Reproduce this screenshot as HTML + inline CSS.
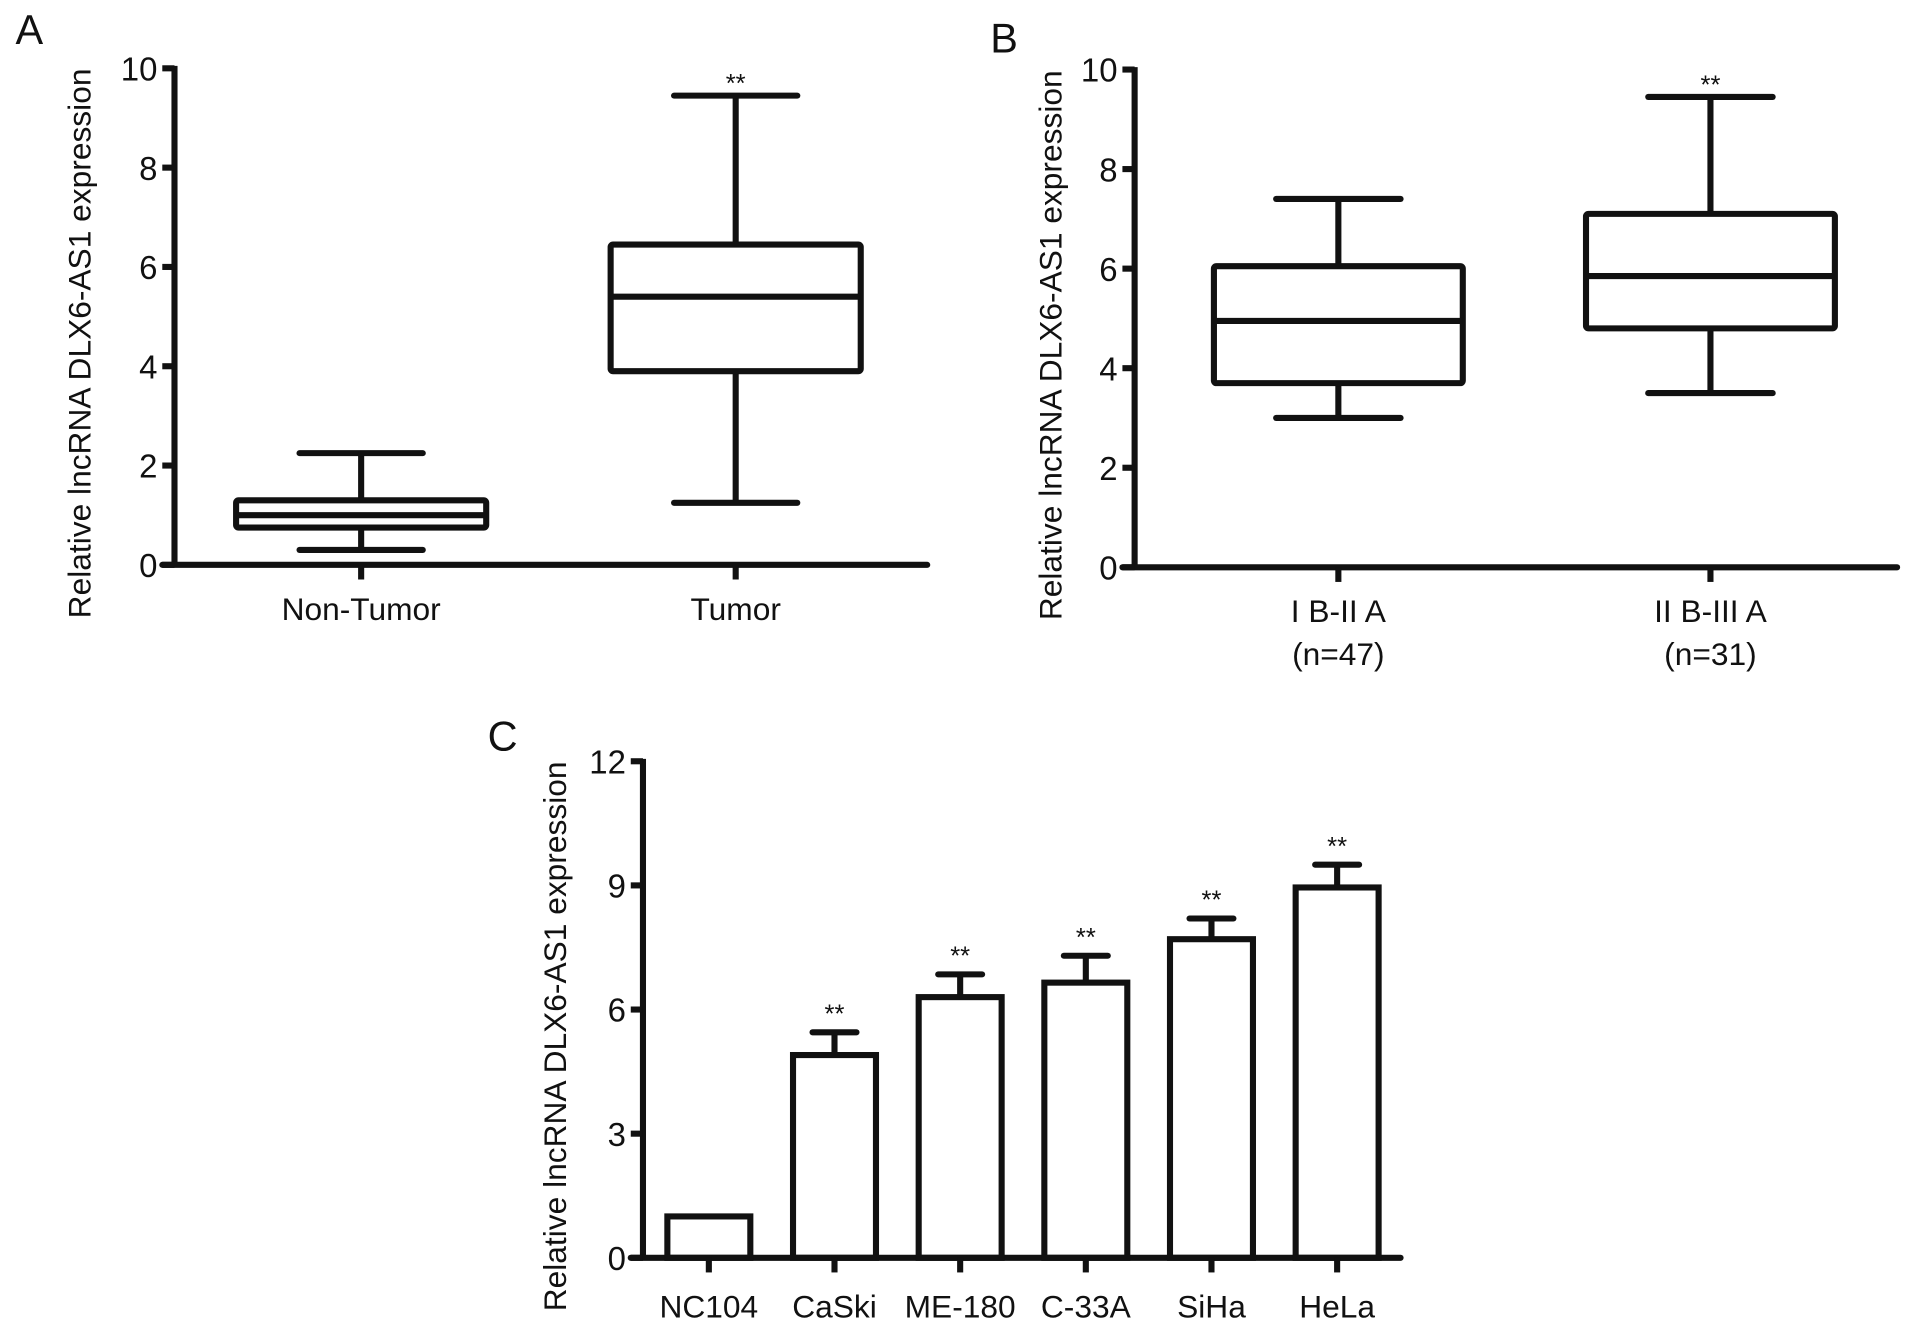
<!DOCTYPE html>
<html><head><meta charset="utf-8"><style>
html,body{margin:0;padding:0;background:#fff;}
svg{display:block;}
text{font-family:"Liberation Sans Narrow","Liberation Sans",sans-serif;fill:#111;}
</style></head><body>
<svg id="fig" width="1913" height="1331" viewBox="0 0 1568 1091" xmlns="http://www.w3.org/2000/svg"></svg>
<script>
// Panel A data
const aCategories = ["Non-Tumor", "Tumor"];
const aWhiskerLow = [0.3, 1.25];
const aQ1 = [0.75, 3.9];
const aMedian = [1.0, 5.4];
const aQ3 = [1.3, 6.45];
const aWhiskerHigh = [2.25, 9.45];
const aSig = ["", "**"];
const aTicks = [0, 2, 4, 6, 8, 10];
// Panel B data
const bCategories = ["I B-II A", "II B-III A"];
const bSubLabels = ["(n=47)", "(n=31)"];
const bWhiskerLow = [3.0, 3.5];
const bQ1 = [3.7, 4.8];
const bMedian = [4.95, 5.85];
const bQ3 = [6.05, 7.1];
const bWhiskerHigh = [7.4, 9.45];
const bSig = ["", "**"];
const bTicks = [0, 2, 4, 6, 8, 10];
// Panel C data
const cCategories = ["NC104", "CaSki", "ME-180", "C-33A", "SiHa", "HeLa"];
const cValues = [1.0, 4.9, 6.3, 6.65, 7.7, 8.95];
const cErrors = [0.0, 0.55, 0.55, 0.65, 0.5, 0.55];
const cSig = ["", "**", "**", "**", "**", "**"];
const cTicks = [0, 3, 6, 9, 12];

const svg = document.getElementById('fig');
const NS = 'http://www.w3.org/2000/svg';
function mk(tag, attrs, parent){
  const e = document.createElementNS(NS, tag);
  for (const k in attrs) e.setAttribute(k, attrs[k]);
  (parent||svg).appendChild(e);
  return e;
}
function txt(s, x, y, size, anchor, parent){
  const t = mk('text', {x:x, y:y, 'font-size':size, 'text-anchor':anchor||'middle'}, parent);
  t.textContent = s;
  return t;
}
const SW = 5;

function axes(g, cfg, ticks){
  const y = v => cfg.y0 - (v - cfg.min)/(cfg.max - cfg.min)*(cfg.y0 - cfg.yTop);
  const yl = mk('line', {x1:cfg.ax, y1:y(cfg.max)-2, x2:cfg.ax, y2:cfg.y0, stroke:'#111','stroke-width':SW}, g);
  
  
  const xl = mk('line', {x1:cfg.ax-10, y1:cfg.y0, x2:cfg.xEnd, y2:cfg.y0, stroke:'#111','stroke-width':SW,'stroke-linecap':'round'}, g);
  
  
  ticks.forEach(v => {
    const tk = mk('line', {x1:cfg.ax-10, y1:y(v), x2:cfg.ax, y2:y(v), stroke:'#111','stroke-width':SW}, g);
    
    
    const tl = txt(String(v), cfg.ax-14, y(v)+10, 27, 'end', g);
    
    
  });
  const tt = txt('Relative  lncRNA DLX6-AS1 expression', 0, 0, 26, 'middle', g);
  tt.setAttribute('transform', 'translate(' + cfg.titleX + ',' + ((cfg.yTop + cfg.y0)/2 + 22) + ') rotate(-90)');
  
  
  const pl = txt(cfg.letter, cfg.letterX, cfg.letterY, 34, 'middle', g);
  
  
  return y;
}

function boxPanel(name, cfg, cats, lo, q1, med, q3, hi, sig, ticks, sub){
  const g = mk('g', {});
  
  
  const y = axes(g, cfg, ticks);
  cats.forEach((c, i) => {
    const cx = cfg.centers[i], bw = cfg.boxW/2, cw = cfg.capW/2;
    const bx = mk('g', {}, g);
    
    
    const st = {stroke:'#111','stroke-width':SW,fill:'none'};
    mk('line', Object.assign({x1:cx, y1:y(hi[i]), x2:cx, y2:y(q3[i])}, st), bx);
    mk('line', Object.assign({x1:cx, y1:y(q1[i]), x2:cx, y2:y(lo[i])}, st), bx);
    mk('line', Object.assign({x1:cx-cw, y1:y(hi[i]), x2:cx+cw, y2:y(hi[i]),'stroke-linecap':'round'}, st), bx);
    mk('line', Object.assign({x1:cx-cw, y1:y(lo[i]), x2:cx+cw, y2:y(lo[i]),'stroke-linecap':'round'}, st), bx);
    mk('rect', Object.assign({x:cx-bw, y:y(q3[i]), width:cfg.boxW, height:y(q1[i])-y(q3[i]), rx:2}, st), bx);
    mk('line', Object.assign({x1:cx-bw, y1:y(med[i]), x2:cx+bw, y2:y(med[i])}, st), bx);
    mk('line', Object.assign({x1:cx, y1:cfg.y0, x2:cx, y2:cfg.y0+12}, st), bx);
    if (sig[i]) {
      const s = txt(sig[i], cx, y(hi[i]) - 3, 21, 'middle', bx);
      
      
    }
    const l = txt(c, cx, cfg.y0 + 45, 26, 'middle', g);
    
    
    if (sub) {
      const l2 = txt(sub[i], cx, cfg.y0 + 80, 26, 'middle', g);
      
      
    }
  });
}

boxPanel('panel-a', {ax:143, y0:463, yTop:56, min:0, max:10, xEnd:760, centers:[296,603], boxW:205, capW:101, titleX:74, letter:'A', letterX:24, letterY:36},
  aCategories, aWhiskerLow, aQ1, aMedian, aQ3, aWhiskerHigh, aSig, aTicks, null);
boxPanel('panel-b', {ax:930, y0:465, yTop:57, min:0, max:10, xEnd:1555, centers:[1097,1402], boxW:204, capW:102, titleX:870, letter:'B', letterX:823, letterY:43},
  bCategories, bWhiskerLow, bQ1, bMedian, bQ3, bWhiskerHigh, bSig, bTicks, bSubLabels);

// Panel C bar chart
(function(){
  const cfg = {ax:527, y0:1031, yTop:624, min:0, max:12, xEnd:1148, titleX:464, letter:'C', letterX:412, letterY:615};
  const g = mk('g', {});
  
  
  const y = axes(g, cfg, cTicks);
  const x0 = 581, step = (1096 - 581)/(cCategories.length - 1), bw = 68;
  cCategories.forEach((c, i) => {
    const cx = x0 + i*step;
    const bg = mk('g', {}, g);
    
    
    const st = {stroke:'#111','stroke-width':SW,fill:'none'};
    if (cErrors[i] > 0) {
      mk('line', Object.assign({x1:cx, y1:y(cValues[i]+cErrors[i]), x2:cx, y2:y(cValues[i])}, st), bg);
      mk('line', Object.assign({x1:cx-18, y1:y(cValues[i]+cErrors[i]), x2:cx+18, y2:y(cValues[i]+cErrors[i]),'stroke-linecap':'round'}, st), bg);
    }
    mk('rect', Object.assign({x:cx-bw/2, y:y(cValues[i]), width:bw, height:y(0)-y(cValues[i]), fill:'#fff'}, st), bg);
    mk('line', Object.assign({x1:cx, y1:cfg.y0, x2:cx, y2:cfg.y0+12}, st), bg);
    if (cSig[i]) {
      const s = txt(cSig[i], cx, y(cValues[i]+cErrors[i]) - 8, 21, 'middle', bg);
      
      
    }
    const l = txt(c, cx, cfg.y0 + 49, 26, 'middle', g);
    
    
  });
})();
</script>
</body></html>
